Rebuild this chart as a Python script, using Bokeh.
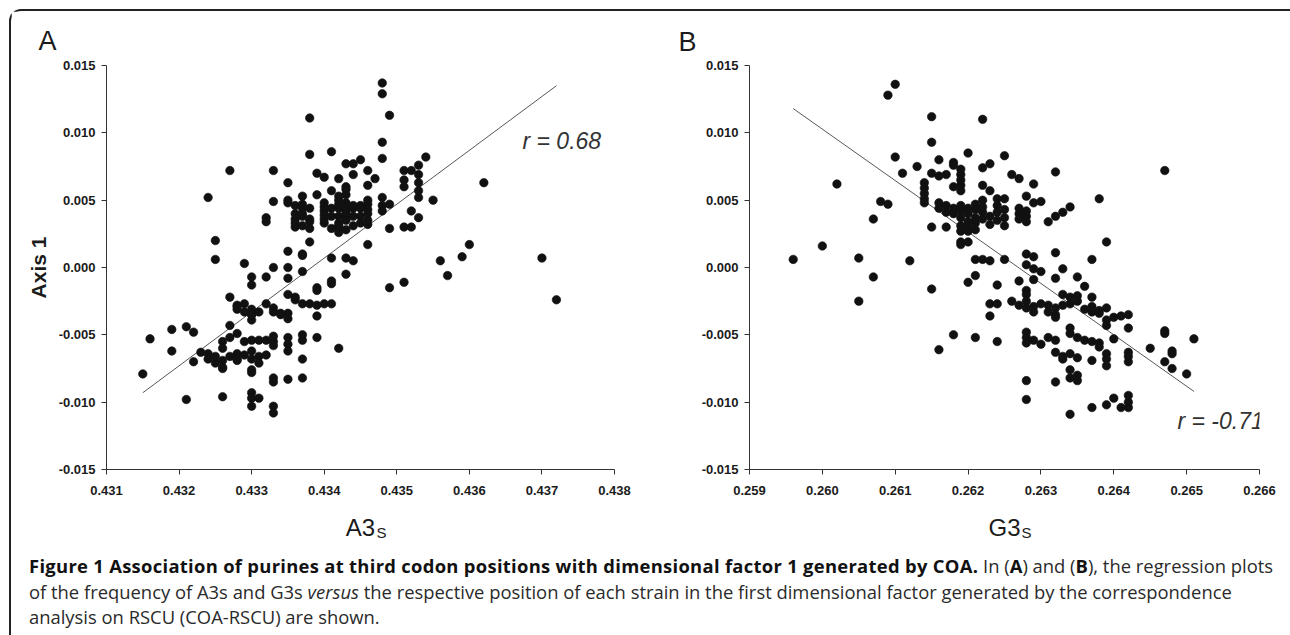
from bokeh.plotting import figure
from bokeh.models import Range1d, FixedTicker, PrintfTickFormatter, Label, Div, Title
from bokeh.layouts import column, row
from bokeh.embed import file_html
from bokeh.resources import INLINE

# ---------------- data: panel A (A3s vs Axis 1) ----------------
a3s = [0.4348, 0.4348, 0.4349, 0.4338, 0.4348, 0.4348, 0.4338, 0.4341, 0.4327, 0.4333,
       0.4324, 0.4362, 0.4354, 0.4353, 0.4355, 0.4370, 0.4372, 0.4360, 0.4359, 0.4356,
       0.4357, 0.4351, 0.4349, 0.4346, 0.4349, 0.4351, 0.4352, 0.4352, 0.4353, 0.4353,
       0.4353, 0.4353, 0.4353, 0.4351, 0.4351, 0.4351, 0.4352, 0.4348, 0.4348, 0.4348,
       0.4349, 0.4347, 0.4346, 0.4345, 0.4344, 0.4343, 0.4344, 0.4342, 0.4340, 0.4339,
       0.4341, 0.4343, 0.4339, 0.4337, 0.4335, 0.4335, 0.4335, 0.4333, 0.4332, 0.4332,
       0.4337, 0.4337, 0.4336, 0.4336, 0.4338, 0.4338, 0.4335, 0.4337, 0.4337, 0.4329,
       0.4333, 0.4335, 0.4337, 0.4335, 0.4332, 0.4330, 0.4330, 0.4325, 0.4325, 0.4341,
       0.4343, 0.4344, 0.4343, 0.4341, 0.4341, 0.4339, 0.4339, 0.4327,
       0.4337, 0.4338, 0.4339, 0.4340, 0.4341, 0.4336, 0.4336, 0.4335, 0.4339,
       0.4336, 0.4337, 0.4338, 0.4336, 0.4337, 0.4338, 0.4336, 0.4337, 0.4338,
       0.4340, 0.4340, 0.4340, 0.4340, 0.4340, 0.4340,
       0.4341, 0.4342, 0.4343, 0.4344, 0.4345,
       0.4341, 0.4342, 0.4343, 0.4344, 0.4345,
       0.4342, 0.4342, 0.4342, 0.4342, 0.4342,
       0.4343, 0.4343, 0.4343, 0.4343, 0.4343,
       0.4346, 0.4346, 0.4346, 0.4346, 0.4346, 0.4346, 0.4346,
       0.4344, 0.4345, 0.4344, 0.4345, 0.4341, 0.4343, 0.4342, 0.4342,
       0.4315, 0.4316, 0.4319, 0.4319, 0.4321, 0.4322, 0.4321, 0.4322,
       0.4323, 0.4324, 0.4324, 0.4325, 0.4325, 0.4326, 0.4326, 0.4326, 0.4326, 0.4327,
       0.4326, 0.4326, 0.4327, 0.4328, 0.4328, 0.4328, 0.4327, 0.4328,
       0.4328, 0.4328, 0.4329, 0.4330, 0.4330, 0.4330, 0.4331,
       0.4332, 0.4333, 0.4333, 0.4334, 0.4335, 0.4335,
       0.4329, 0.4330, 0.4331, 0.4332, 0.4333, 0.4333,
       0.4335, 0.4335, 0.4335, 0.4330, 0.4329, 0.4330, 0.4331, 0.4332,
       0.4330, 0.4330, 0.4333, 0.4333, 0.4335, 0.4337,
       0.4330, 0.4330, 0.4330, 0.4331, 0.4333, 0.4333,
       0.4337, 0.4337, 0.4337, 0.4339, 0.4342, 0.4333, 0.4331,
       0.4328, 0.4329, 0.4330, 0.4334]
axis1_a = [0.0137, 0.0129, 0.0113, 0.0111, 0.0093, 0.0081, 0.0084, 0.0086, 0.0072, 0.0072,
           0.0052, 0.0063, 0.0082, 0.0076, 0.0050, 0.0007, -0.0024, 0.0017, 0.0008, 0.0005,
           -0.0006, -0.0011, -0.0015, 0.0017, 0.0029, 0.0030, 0.0030, 0.0042, 0.0037, 0.0052,
           0.0057, 0.0063, 0.0069, 0.0072, 0.0065, 0.0060, 0.0072, 0.0052, 0.0046, 0.0042,
           0.0047, 0.0066, 0.0072, 0.0080, 0.0077, 0.0077, 0.0069, 0.0066, 0.0067, 0.0070,
           0.0057, 0.0060, 0.0054, 0.0053, 0.0063, 0.0050, 0.0048, 0.0049, 0.0037, 0.0034,
           0.0044, 0.0040, 0.0036, 0.0030, 0.0034, 0.0019, 0.0012, 0.0010, 0.0009, 0.0003,
           0.0000, 0.0000, -0.0003, -0.0008, -0.0007, -0.0007, -0.0013, 0.0020, 0.0006, 0.0007,
           0.0007, 0.0005, -0.0005, -0.0010, -0.0012, -0.0015, -0.0017, -0.0022,
           -0.0027, -0.0027, -0.0028, -0.0027, -0.0027, -0.0024, -0.0022, -0.0020, -0.0036,
           0.0046, 0.0047, 0.0044, 0.0040, 0.0038, 0.0036, 0.0033, 0.0031, 0.0029,
           0.0033, 0.0036, 0.0039, 0.0042, 0.0045, 0.0048,
           0.0044, 0.0044, 0.0044, 0.0044, 0.0044,
           0.0038, 0.0038, 0.0038, 0.0038, 0.0038,
           0.0030, 0.0033, 0.0047, 0.0050, 0.0053,
           0.0035, 0.0041, 0.0048, 0.0054, 0.0058,
           0.0032, 0.0035, 0.0040, 0.0043, 0.0047, 0.0050, 0.0061,
           0.0046, 0.0046, 0.0031, 0.0033, 0.0029, 0.0028, 0.0026, 0.0031,
           -0.0079, -0.0053, -0.0046, -0.0062, -0.0044, -0.0048, -0.0098, -0.0070,
           -0.0063, -0.0064, -0.0068, -0.0071, -0.0066, -0.0069, -0.0074, -0.0075, -0.0096, -0.0043,
           -0.0055, -0.0060, -0.0066, -0.0068, -0.0064, -0.0069, -0.0052, -0.0049,
           -0.0028, -0.0031, -0.0027, -0.0031, -0.0035, -0.0039, -0.0033,
           -0.0027, -0.0030, -0.0033, -0.0034, -0.0034, -0.0038,
           -0.0055, -0.0054, -0.0054, -0.0054, -0.0055, -0.0051,
           -0.0052, -0.0057, -0.0062, -0.0062, -0.0065, -0.0068, -0.0066, -0.0065,
           -0.0076, -0.0078, -0.0082, -0.0085, -0.0083, -0.0082,
           -0.0093, -0.0097, -0.0103, -0.0097, -0.0103, -0.0108,
           -0.0050, -0.0054, -0.0068, -0.0052, -0.0060, -0.0058, -0.0071,
           -0.0029, -0.0033, -0.0035, -0.0035]
fit_a_x = [0.4315, 0.4372]
fit_a_y = [-0.0093, 0.0135]

# ---------------- data: panel B (G3s vs Axis 1) ----------------
g3s = [0.2610, 0.2609, 0.2615, 0.2622, 0.2615, 0.2610, 0.2611, 0.2613, 0.2616, 0.2618,
       0.2618, 0.2620, 0.2625, 0.2623, 0.2622, 0.2626, 0.2627, 0.2629, 0.2632, 0.2647,
       0.2638, 0.2639, 0.2637, 0.2602, 0.2608, 0.2609, 0.2607, 0.2600, 0.2596, 0.2605,
       0.2607, 0.2605, 0.2612, 0.2615, 0.2615, 0.2617, 0.2619, 0.2620, 0.2621, 0.2622,
       0.2623, 0.2625, 0.2621, 0.2620, 0.2624, 0.2623, 0.2624, 0.2623, 0.2628, 0.2629,
       0.2628, 0.2629, 0.2630, 0.2627, 0.2629, 0.2632, 0.2633, 0.2632, 0.2635, 0.2636,
       0.2637, 0.2639,
       0.2614, 0.2614, 0.2614, 0.2614, 0.2614, 0.2615, 0.2616, 0.2617,
       0.2619, 0.2619, 0.2619, 0.2619, 0.2619, 0.2618, 0.2616,
       0.2616, 0.2617, 0.2617, 0.2618, 0.2618, 0.2619, 0.2619, 0.2619, 0.2620, 0.2620,
       0.2620, 0.2620, 0.2620, 0.2621, 0.2621, 0.2621, 0.2621, 0.2622, 0.2622, 0.2622,
       0.2622, 0.2619, 0.2619, 0.2621, 0.2622, 0.2623,
       0.2624, 0.2624, 0.2624, 0.2624, 0.2625, 0.2625, 0.2625, 0.2625, 0.2623, 0.2623,
       0.2627, 0.2627, 0.2627, 0.2628, 0.2628, 0.2628, 0.2628, 0.2629, 0.2630,
       0.2631, 0.2632, 0.2633, 0.2634,
       0.2628, 0.2628, 0.2626, 0.2627, 0.2628, 0.2629, 0.2630, 0.2631, 0.2632,
       0.2631, 0.2632, 0.2632, 0.2633, 0.2634, 0.2635, 0.2635, 0.2634, 0.2633,
       0.2636, 0.2637, 0.2638, 0.2638, 0.2618, 0.2621, 0.2624, 0.2616,
       0.2628, 0.2628, 0.2628, 0.2629, 0.2630, 0.2631, 0.2632,
       0.2632, 0.2633, 0.2634, 0.2635, 0.2633,
       0.2634, 0.2634, 0.2635, 0.2636, 0.2637, 0.2638, 0.2638,
       0.2634, 0.2635, 0.2635, 0.2634, 0.2637, 0.2628, 0.2628, 0.2632,
       0.2634, 0.2637, 0.2639, 0.2640, 0.2641, 0.2642, 0.2642, 0.2642,
       0.2639, 0.2639, 0.2639, 0.2642, 0.2642, 0.2642, 0.2640,
       0.2639, 0.2639, 0.2640, 0.2641, 0.2642, 0.2642, 0.2637,
       0.2645, 0.2647, 0.2647, 0.2648, 0.2648, 0.2647, 0.2648, 0.2650, 0.2651,
       0.2619, 0.2628, 0.2629]
axis1_b = [0.0136, 0.0128, 0.0112, 0.0110, 0.0093, 0.0082, 0.0070, 0.0075, 0.0080, 0.0078,
           0.0076, 0.0085, 0.0083, 0.0077, 0.0074, 0.0069, 0.0066, 0.0062, 0.0071, 0.0072,
           0.0051, 0.0019, 0.0006, 0.0062, 0.0049, 0.0047, 0.0036, 0.0016, 0.0006, 0.0007,
           -0.0007, -0.0025, 0.0005, -0.0016, 0.0030, 0.0030, 0.0019, 0.0019, 0.0006, 0.0006,
           0.0005, 0.0006, -0.0006, -0.0011, -0.0013, -0.0027, -0.0027, -0.0036, 0.0010, 0.0008,
           0.0002, -0.0001, -0.0003, -0.0010, -0.0009, 0.0011, -0.0001, -0.0008, -0.0007, -0.0014,
           -0.0022, -0.0030,
           0.0063, 0.0059, 0.0055, 0.0051, 0.0048, 0.0070, 0.0068, 0.0069,
           0.0073, 0.0069, 0.0065, 0.0061, 0.0057, 0.0060, 0.0048,
           0.0044, 0.0046, 0.0041, 0.0044, 0.0040, 0.0046, 0.0042, 0.0037, 0.0044, 0.0040,
           0.0034, 0.0030, 0.0027, 0.0047, 0.0043, 0.0037, 0.0033, 0.0050, 0.0045, 0.0041,
           0.0036, 0.0031, 0.0027, 0.0028, 0.0061, 0.0057,
           0.0051, 0.0046, 0.0041, 0.0035, 0.0051, 0.0043, 0.0037, 0.0031, 0.0038, 0.0032,
           0.0044, 0.0040, 0.0036, 0.0042, 0.0038, 0.0034, 0.0053, 0.0048, 0.0049,
           0.0034, 0.0038, 0.0041, 0.0045,
           -0.0017, -0.0020, -0.0025, -0.0028, -0.0030, -0.0029, -0.0027, -0.0028, -0.0030,
           -0.0033, -0.0035, -0.0037, -0.0020, -0.0022, -0.0021, -0.0025, -0.0027, -0.0028,
           -0.0031, -0.0033, -0.0032, -0.0034, -0.0050, -0.0052, -0.0055, -0.0061,
           -0.0048, -0.0052, -0.0056, -0.0054, -0.0057, -0.0052, -0.0054,
           -0.0063, -0.0066, -0.0064, -0.0067, -0.0068,
           -0.0045, -0.0049, -0.0052, -0.0054, -0.0055, -0.0056, -0.0059,
           -0.0076, -0.0080, -0.0084, -0.0082, -0.0069, -0.0084, -0.0098, -0.0085,
           -0.0109, -0.0104, -0.0102, -0.0097, -0.0104, -0.0104, -0.0100, -0.0095,
           -0.0064, -0.0068, -0.0073, -0.0063, -0.0066, -0.0070, -0.0053,
           -0.0043, -0.0039, -0.0037, -0.0036, -0.0035, -0.0045, -0.0029,
           -0.0060, -0.0047, -0.0049, -0.0062, -0.0064, -0.0070, -0.0075, -0.0079, -0.0053,
           0.0017, -0.0025, -0.0033]
fit_b_x = [0.2596, 0.2651]
fit_b_y = [0.0118, -0.0092]

y_ticks = [-0.015, -0.010, -0.005, 0.000, 0.005, 0.010, 0.015]
x_ticks_a = [0.431, 0.432, 0.433, 0.434, 0.435, 0.436, 0.437, 0.438]
x_ticks_b = [0.259, 0.260, 0.261, 0.262, 0.263, 0.264, 0.265, 0.266]

INK = "#1b1b1b"
FONT = "Liberation Sans"


def make_panel(xs, ys, fx, fy, xticks, width, top, bottom, left, right,
               letter, letter_offset, letter_standoff, xlabel, sub_offset, ylabel):
    p = figure(width=width, height=535, output_backend="svg", toolbar_location=None,
               x_range=Range1d(xticks[0], xticks[-1]), y_range=Range1d(-0.015, 0.015),
               min_border_left=left, min_border_right=right,
               min_border_top=top, min_border_bottom=bottom)
    p.outline_line_color = None
    p.grid.visible = False
    p.background_fill_color = "white"
    p.border_fill_color = "white"
    for ax, ticks in ((p.xaxis[0], xticks), (p.yaxis[0], y_ticks)):
        ax.ticker = FixedTicker(ticks=ticks)
        ax.formatter = PrintfTickFormatter(format="%.3f")
        ax.axis_line_color = "#333333"
        ax.axis_line_width = 1
        ax.major_tick_line_color = "#333333"
        ax.major_tick_in = 0
        ax.major_tick_out = 5
        ax.minor_tick_line_color = None
        ax.major_label_text_font = FONT
        ax.major_label_text_font_style = "bold"
        ax.major_label_text_font_size = "13px"
        ax.major_label_text_color = INK
        ax.axis_label_text_font = FONT
        ax.axis_label_text_color = INK
    p.xaxis.major_label_standoff = 11
    p.yaxis.major_label_standoff = 6

    # x axis title (main part) and y axis title
    p.xaxis.axis_label = xlabel
    p.xaxis.axis_label_text_font_size = "24px"
    p.xaxis.axis_label_text_font_style = "normal"
    p.xaxis.axis_label_standoff = 16
    if ylabel:
        p.yaxis.axis_label = ylabel
        p.yaxis.axis_label_text_font_size = "21px"
        p.yaxis.axis_label_text_font_style = "bold"
        p.yaxis.axis_label_standoff = 6

    # panel letter
    p.title.text = letter
    p.title.align = "left"
    p.title.offset = letter_offset
    p.title.standoff = letter_standoff
    p.title.text_font = FONT
    p.title.text_font_size = "27px"
    p.title.text_font_style = "normal"
    p.title.text_color = INK

    # subscript S of the x axis title
    p.add_layout(Title(text="S", align="left", offset=sub_offset, standoff=-39,
                       vertical_align="top",
                       text_font=FONT, text_font_size="15px", text_font_style="normal",
                       text_color=INK), "below")

    p.line(fx, fy, line_color="#444444", line_width=0.9)
    p.scatter(xs, ys, size=8.5, fill_color="#111111", line_color="#111111", line_width=0.6)
    return p


def r_label(p, x, y, text):
    p.add_layout(Label(x=x, y=y, x_units="screen", y_units="screen", text=text,
                       text_font=FONT, text_font_size="23px", text_font_style="italic",
                       text_color="#333333", text_baseline="alphabetic"))


pA = make_panel(a3s, axis1_a, fit_a_x, fit_a_y, x_ticks_a, 640,
                top=54, bottom=77, left=95, right=37,
                letter="A", letter_offset=-68, letter_standoff=19,
                xlabel="A3", sub_offset=270, ylabel="Axis 1")
r_label(pA, 416, 329, "r = 0.68")

pB = make_panel(g3s, axis1_b, fit_b_x, fit_b_y, x_ticks_b, 638,
                top=52, bottom=76, left=98, right=30,
                letter="B", letter_offset=-71, letter_standoff=17,
                xlabel="G3", sub_offset=272, ylabel=None)
r_label(pB, 428, 49, "r = -0.71")

caption_html = (
    '<div style="font-family:\'Open Sans\',sans-serif;font-size:18.4px;line-height:25.7px;'
    'color:#2a2a2a;white-space:nowrap;padding:2px 0 0 13px;">'
    '<b style="color:#111;letter-spacing:0.3px">Figure 1 Association of purines at third codon '
    'positions with dimensional factor 1 generated by COA.</b> In (<b style="color:#111">A</b>) '
    'and (<b style="color:#111">B</b>), the regression plots<br>'
    'of the frequency of A3s and G3s <i>versus</i> the respective position of each strain '
    'in the first dimensional factor generated by the correspondence<br>'
    'analysis on RSCU (COA-RSCU) are shown.</div>'
)
cap = Div(text=caption_html, width=1278, height=80)

layout = column(row(pA, pB), cap,
                styles={"border-top": "2px solid #222", "border-left": "2px solid #222",
                        "border-top-left-radius": "12px",
                        "margin-left": "9px", "margin-top": "9px"})

open("out.html", "w").write(file_html(layout, INLINE))
